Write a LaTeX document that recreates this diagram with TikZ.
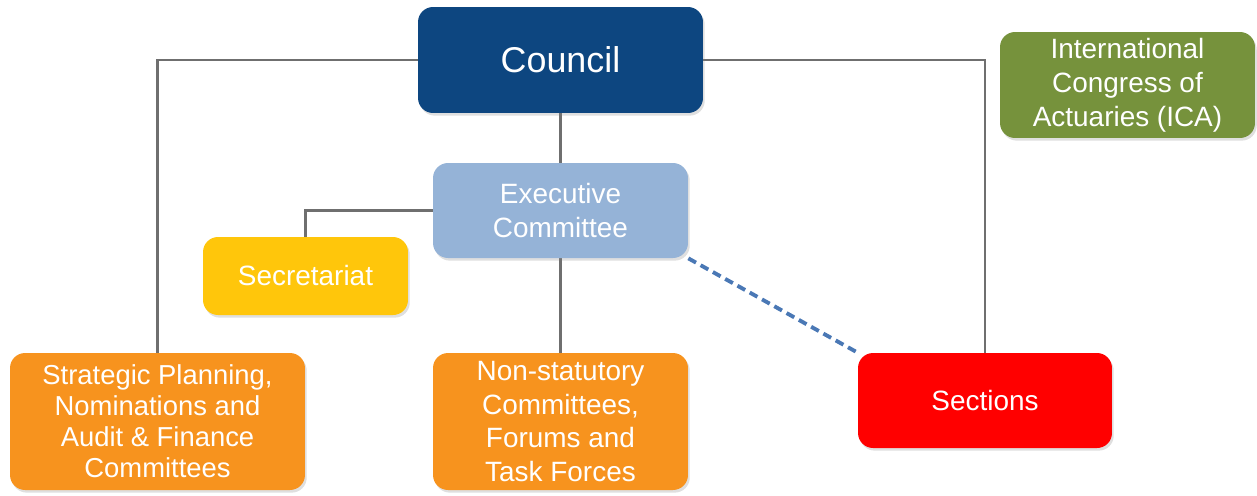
\documentclass[tikz,border=0pt]{standalone}
\usepackage{fontspec}
\setmainfont{Liberation Sans}
\usetikzlibrary{shadows,backgrounds}

\definecolor{councilblue}{HTML}{0D4680}
\definecolor{execblue}{HTML}{95B3D7}
\definecolor{secyellow}{HTML}{FFC60B}
\definecolor{comorange}{HTML}{F7931E}
\definecolor{secred}{HTML}{FF0000}
\definecolor{icagreen}{HTML}{76923C}
\definecolor{linegray}{HTML}{6F6F6F}
\definecolor{dashblue}{HTML}{4A78B5}

\tikzset{
    box/.style={rounded corners=0.3cm, inner sep=0pt, align=center, text=white,
        font=\fontsize{15.9}{19.3}\selectfont,
        drop shadow={opacity=0.25, shadow xshift=1pt, shadow yshift=-1.5pt}},
    conn/.style={draw=linegray, line width=1.6pt},
    dashconn/.style={draw=dashblue, line width=2.2pt, dash pattern=on 5pt off 3pt}
}

\begin{document}
\begin{tikzpicture}[x=0.02cm, y=-0.02cm]
    \useasboundingbox (0,0) rectangle (1257,495);

    \node[box, fill=councilblue, minimum width=5.7cm, minimum height=2.12cm,
        font=\fontsize{20.4}{24}\selectfont] (council) at (560.5,60) {Council};
    \node[box, fill=icagreen, minimum width=5.1cm, minimum height=2.12cm] (ica) at (1127.5,85)
        {International\\Congress of\\Actuaries (ICA)};
    \node[box, fill=execblue, minimum width=5.1cm, minimum height=1.9cm] (exec) at (560.5,210.5)
        {Executive\\Committee};
    \node[box, fill=secyellow, minimum width=4.1cm, minimum height=1.56cm] (secretariat) at (305.5,276)
        {Secretariat};
    \node[box, fill=comorange, minimum width=5.9cm, minimum height=2.74cm,
        font=\fontsize{15.6}{17.6}\selectfont] (strategic) at (157.5,421.5)
        {Strategic Planning,\\Nominations and\\Audit \& Finance\\Committees};
    \node[box, fill=comorange, minimum width=5.1cm, minimum height=2.74cm] (nonstat) at (560.5,421.5)
        {Non-statutory\\Committees,\\Forums and\\Task Forces};
    \node[box, fill=secred, minimum width=5.08cm, minimum height=1.9cm] (sections) at (985,400.5)
        {Sections};

    \begin{scope}[on background layer]
        \draw[conn] (council.west) -| (strategic.north);
        \draw[conn] (council.east) -| (sections.north);
        \draw[conn] (council) -- (exec);
        \draw[conn] (exec.west) -| (secretariat.north);
        \draw[conn] (exec) -- (nonstat);
        \draw[dashconn] (exec.south east) -- (sections.north west);
    \end{scope}
\end{tikzpicture}
\end{document}
